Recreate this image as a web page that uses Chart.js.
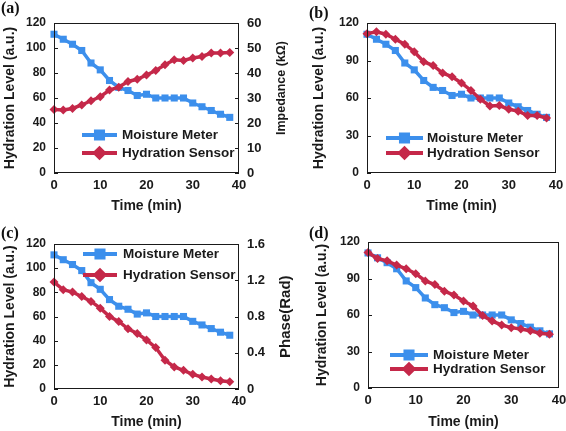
<!DOCTYPE html>
<html>
<head>
<meta charset="utf-8">
<script src="https://cdn.jsdelivr.net/npm/chart.js@4.4.1/dist/chart.umd.min.js"></script>
<style>
  html, body { margin: 0; padding: 0; background: #fff; }
  #wrap { position: relative; width: 566px; height: 431px; overflow: hidden; background: #fff; }
  #wrap canvas { position: absolute; }
  .tag { position: absolute; font: bold 16px "Liberation Serif", "Times New Roman", serif; color: #111; }
</style>
</head>
<body>
<div id="wrap">
  <canvas id="chartA" width="295" height="215" style="left:0;top:0"></canvas>
  <canvas id="chartB" width="283" height="215" style="left:283px;top:0"></canvas>
  <canvas id="chartC" width="295" height="216" style="left:0;top:215px"></canvas>
  <canvas id="chartD" width="283" height="216" style="left:283px;top:215px"></canvas>
  <div class="tag" style="left:1px;top:-1px">(a)</div>
  <div class="tag" style="left:309px;top:4px">(b)</div>
  <div class="tag" style="left:1px;top:224px">(c)</div>
  <div class="tag" style="left:309px;top:224px">(d)</div>
</div>
<script>
// time axis (min)
const time = [0, 2, 4, 6, 8, 10, 12, 14, 16, 18, 20, 22, 24, 26, 28, 30, 32, 34, 36, 38];
const timeTicks = [0, 10, 20, 30, 40];

// moisture meter reading, same in every panel (a.u.)
const moistureMeter = [111, 107, 103, 98, 88, 82.5, 74, 68.5, 66, 62, 63, 60, 60, 60, 60, 56, 53, 50, 47, 44.5];

// (a) sensor impedance (kΩ)
const impedanceA = [25.4, 25.2, 25.8, 27.2, 28.9, 30.5, 33.2, 34.3, 36.6, 37.5, 39.2, 41, 43.3, 45.3, 45, 46, 46.6, 48, 48, 48.2];
// (b) sensor hydration level from impedance (a.u.)
const sensorB = [111.5, 113, 111, 107, 103, 97, 89, 86, 80, 77, 72, 66, 59, 53.6, 54, 51, 49.5, 46, 46, 44];
// (c) sensor phase (rad)
const phaseC = [1.18, 1.095, 1.07, 1.02, 0.966, 0.892, 0.80, 0.745, 0.664, 0.612, 0.542, 0.457, 0.317, 0.243, 0.206, 0.162, 0.133, 0.11, 0.092, 0.081];
// (d) sensor hydration level from phase (a.u.)
const sensorD = [111.3, 106.4, 104.5, 101, 98, 94, 88, 85, 79.6, 76.4, 71.5, 67.4, 59.5, 55, 51.8, 49.6, 48.5, 47, 45, 44.2];

const seriesNames = ['Moisture Meter', 'Hydration Sensor'];

const BLUE = '#3c8fec';
const RED = '#c52849';
const INK = '#1a1a1a';
const SANS = '"Liberation Sans", Arial, Helvetica, sans-serif';

Chart.defaults.font.family = SANS;
Chart.defaults.font.weight = 'bold';
Chart.defaults.color = INK;

const toXY = (vals) => vals.map((v, i) => ({ x: time[i], y: v }));

// frame, inward ticks, custom legend and the right-hand title
const panelDeco = {
  id: 'panelDeco',
  afterDatasetsDraw(chart, args, opts) {
    const { ctx, chartArea: ca } = chart;
    ctx.save();
    ctx.strokeStyle = INK;
    ctx.lineWidth = 1;
    ctx.strokeRect(ca.left + 0.5, ca.top + 0.5, ca.right - ca.left - 1, ca.bottom - ca.top - 1);

    ['y', 'y1'].forEach(id => {
      const sc = chart.scales[id];
      if (!sc) return;
      const edge = id === 'y' ? ca.left : ca.right;
      const dir = id === 'y' ? 1 : -1;
      sc.ticks.forEach(t => {
        const py = Math.round(sc.getPixelForValue(t.value)) + 0.5;
        ctx.beginPath();
        ctx.moveTo(edge, py);
        ctx.lineTo(edge + dir * 4, py);
        ctx.stroke();
      });
    });

    // legend
    const lg = opts.legend;
    chart.data.datasets.slice().sort((a, b) => a.legendRank - b.legendRank).forEach((ds, i) => {
      const y = lg.y[i];
      ctx.strokeStyle = ds.borderColor;
      ctx.lineWidth = 4;
      ctx.beginPath();
      ctx.moveTo(lg.x1, y);
      ctx.lineTo(lg.x2, y);
      ctx.stroke();
      Chart.helpers.drawPoint(ctx, {
        pointStyle: ds.pointStyle, radius: ds.pointRadius, borderWidth: 1
      }, (lg.x1 + lg.x2) / 2, y);
      ctx.fillStyle = ds.borderColor;
      ctx.fill();
      ctx.fillStyle = INK;
      ctx.font = 'bold 13.5px ' + SANS;
      ctx.textBaseline = 'middle';
      ctx.textAlign = 'left';
      ctx.fillText(ds.label, lg.tx, y + 0.5);
    });

    const rt = opts.rightTitle;
    if (rt) {
      ctx.translate(rt.x, rt.y);
      ctx.rotate(-Math.PI / 2);
      ctx.font = 'bold ' + rt.size + 'px ' + SANS;
      ctx.textAlign = 'center';
      ctx.textBaseline = 'middle';
      ctx.fillStyle = INK;
      ctx.fillText(rt.text, 0, 0);
    }
    ctx.restore();
  }
};

function makePanel(canvasId, p) {
  const sensorAxis = p.right ? 'y1' : 'y';
  const scales = {
    x: {
      type: 'linear', min: 0, max: 40,
      afterBuildTicks: (sc) => { sc.ticks = timeTicks.map(v => ({ value: v })); },
      grid: { display: false, drawTicks: false },
      border: { display: false },
      ticks: { padding: p.xTickPad, font: { size: 13 }, color: INK },
      title: { display: true, text: 'Time (min)', font: { size: 14 }, padding: { top: p.xTitlePad, bottom: 0 } },
      afterFit: (sc) => { sc.height = p.xH; sc.paddingLeft = 0; sc.paddingRight = 0; }
    },
    y: {
      min: 0, max: 120,
      ticks: { stepSize: p.yStep, padding: 8, font: { size: 12 }, color: INK },
      grid: { display: false, drawTicks: false },
      border: { display: false },
      title: { display: true, text: 'Hydration Level (a.u.)', font: { size: 14 }, padding: { top: 2, bottom: 0 } },
      afterFit: (sc) => { sc.width = p.yW; sc.paddingTop = 0; sc.paddingBottom = 0; }
    }
  };
  if (p.right) {
    scales.y1 = {
      position: 'right', min: 0, max: p.right.max,
      ticks: { stepSize: p.right.step, padding: 8, font: { size: 13 }, color: INK },
      grid: { display: false, drawTicks: false },
      border: { display: false },
      afterFit: (sc) => { sc.width = p.right.w; sc.paddingTop = 0; sc.paddingBottom = 0; }
    };
  }

  return new Chart(document.getElementById(canvasId), {
    type: 'line',
    data: {
      datasets: [
        {
          label: seriesNames[1], data: toXY(p.sensor), yAxisID: sensorAxis, order: 0, legendRank: 1,
          borderColor: RED, backgroundColor: RED, borderWidth: 3.5,
          pointStyle: 'rectRot', pointRadius: 4.5, pointBorderWidth: 0, clip: false
        },
        {
          label: seriesNames[0], data: toXY(moistureMeter), yAxisID: 'y', order: 1, legendRank: 0,
          borderColor: BLUE, backgroundColor: BLUE, borderWidth: 3.5,
          pointStyle: 'rect', pointRadius: 5, pointBorderWidth: 0, clip: false
        }
      ]
    },
    options: {
      responsive: false,
      animation: false,
      devicePixelRatio: 1,
      layout: { padding: p.pad },
      elements: { line: { tension: 0 } },
      scales,
      plugins: {
        legend: { display: false },
        tooltip: { enabled: false },
        panelDeco: { legend: p.legend, rightTitle: p.rightTitle }
      }
    },
    plugins: [panelDeco]
  });
}

makePanel('chartA', {
  sensor: impedanceA, yStep: 20, yW: 54, xH: 42, xTickPad: 5, xTitlePad: 4,
  pad: { left: 0, top: 23, right: 0, bottom: 0 },
  right: { max: 60, step: 10, w: 56 },
  rightTitle: { text: 'Impedance (kΩ)', x: 281.5, y: 88, size: 12.5 },
  legend: { x1: 82, x2: 117, tx: 122, y: [135, 153] }
});

makePanel('chartB', {
  sensor: sensorB, yStep: 30, yW: 58, xH: 42, xTickPad: 5, xTitlePad: 4,
  pad: { left: 26, top: 23, right: 10, bottom: 0 },
  legend: { x1: 103, x2: 140, tx: 144, y: [138, 153] }
});

makePanel('chartC', {
  sensor: phaseC, yStep: 20, yW: 54, xH: 42, xTickPad: 5, xTitlePad: 4.5,
  pad: { left: 0, top: 29, right: 0, bottom: 0 },
  right: { max: 1.6, step: 0.4, w: 56 },
  rightTitle: { text: 'Phase(Rad)', x: 286, y: 101.7, size: 15 },
  legend: { x1: 83, x2: 117, tx: 123, y: [39, 60] }
});

makePanel('chartD', {
  sensor: sensorD, yStep: 30, yW: 56, xH: 43, xTickPad: 5, xTitlePad: 0,
  pad: { left: 29, top: 27, right: 7, bottom: 0 },
  legend: { x1: 107, x2: 145, tx: 150, y: [140, 154] }
});
</script>
</body>
</html>
